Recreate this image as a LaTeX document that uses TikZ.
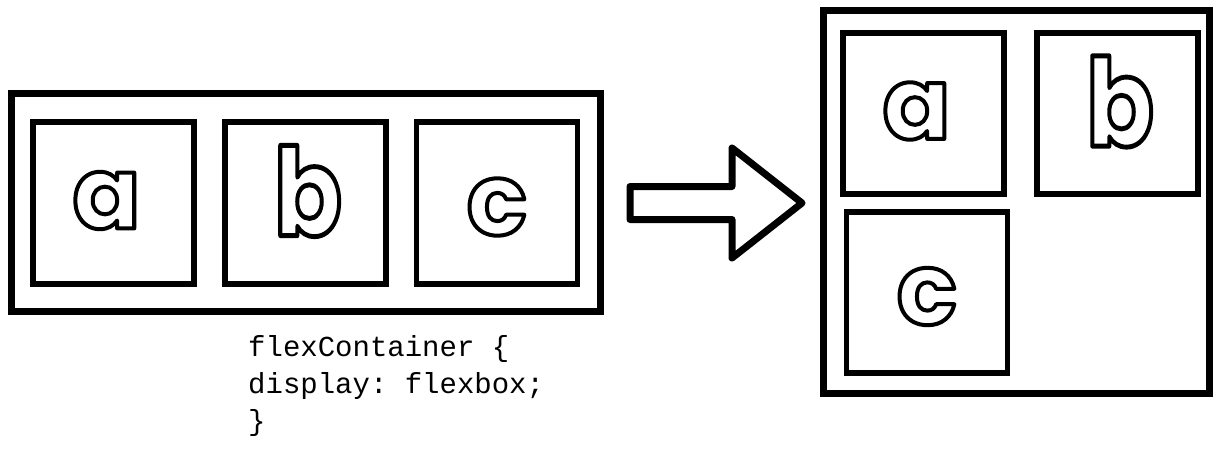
\documentclass[tikz,border=0pt]{standalone}
\usepackage{fontspec}
\newfontfamily\letterfont{Poppins}
\setmonofont{Liberation Mono}
\newcommand{\outl}[1]{\special{pdf:literal direct 1 Tr 4 w 1 j}#1\special{pdf:literal direct 0 Tr}}
\begin{document}
\begin{tikzpicture}[x=1pt,y=-1pt,
  outerbox/.style={draw, line width=7pt, inner sep=0pt},
  innerbox/.style={draw, line width=5.5pt, minimum width=161pt, minimum height=162pt, inner sep=0pt},
  letter/.style={inner sep=0pt, font=\letterfont\bfseries\fontsize{100}{100}\selectfont},
  codetext/.style={inner sep=0pt, align=left, font=\ttfamily\fontsize{29}{37}\selectfont},
  blockarrow/.style={draw, line width=7pt, line join=round}]
\useasboundingbox (0,0) rectangle (1217,450);
% left container
\node[outerbox, minimum width=589pt, minimum height=218pt] (left) at (306,202.5) {};
\node[innerbox] (la) at (113.5,203) {};
\node[innerbox] (lb) at (305.5,203) {};
\node[innerbox] (lc) at (497,203) {};
\node[letter, xshift=-7pt, yshift=2.5pt] (lat) at (la) {\outl{a}};
\node[letter, xshift=2.5pt, yshift=12pt] (lbt) at (lb) {\scalebox{1}[1.22]{\outl{b}}};
\node[letter, yshift=-4pt] (lct) at (lc) {\outl{c}};
% code
\node[codetext, anchor=north west] (code) at (248,335.5) {flexContainer \{\\display: flexbox;\\\}};
% arrow
\draw[blockarrow] (630,186.5) -- (732,186.5) -- (732,148) -- (802,203) -- (732,258) -- (732,219.5) -- (630,219.5) -- cycle;
% right container
\node[outerbox, minimum width=386pt, minimum height=383pt] (right) at (1016.5,202) {};
\node[innerbox, minimum height=161pt] (ra) at (923.5,113.5) {};
\node[innerbox, minimum height=161pt] (rb) at (1117.5,113.5) {};
\node[innerbox, minimum height=161pt] (rc) at (927,292.5) {};
\node[letter, xshift=-7pt, yshift=2.5pt] (rat) at (ra) {\outl{a}};
\node[letter, xshift=2.5pt, yshift=12pt] (rbt) at (rb) {\scalebox{1}[1.22]{\outl{b}}};
\node[letter, yshift=-4pt] (rct) at (rc) {\outl{c}};
\end{tikzpicture}
\end{document}
